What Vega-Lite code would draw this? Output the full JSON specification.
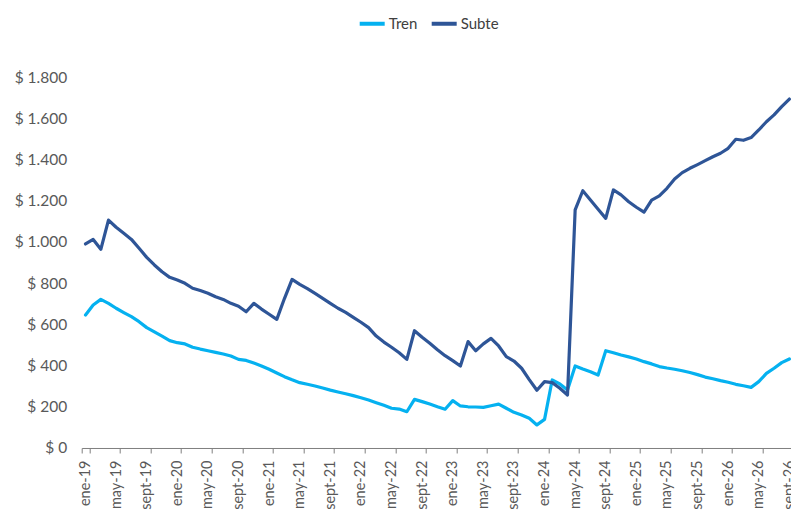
{
  "$schema": "https://vega.github.io/schema/vega-lite/v6.json",
  "autosize": "none",
  "padding": {"left": 81.7, "top": 77, "right": 0, "bottom": 63},
  "width": 711.5,
  "height": 371,
  "background": "white",
  "config": {
    "view": {"stroke": null},
    "font": "Lato",
    "axis": {"grid": false, "labelFont": "Lato", "labelColor": "#595959", "labelFontSize": 14.5}
  },
  "data": {
    "values": [
      {"mes": "ene-19", "Tren": 645, "Subte": 990},
      {"mes": "feb-19", "Tren": 694, "Subte": 1012},
      {"mes": "mar-19", "Tren": 721, "Subte": 964},
      {"mes": "abr-19", "Tren": 702, "Subte": 1106},
      {"mes": "may-19", "Tren": 678, "Subte": 1071},
      {"mes": "jun-19", "Tren": 657, "Subte": 1042},
      {"mes": "jul-19", "Tren": 637, "Subte": 1012},
      {"mes": "ago-19", "Tren": 613, "Subte": 969},
      {"mes": "sept-19", "Tren": 584, "Subte": 925},
      {"mes": "oct-19", "Tren": 563, "Subte": 888},
      {"mes": "nov-19", "Tren": 543, "Subte": 855},
      {"mes": "dic-19", "Tren": 521, "Subte": 828},
      {"mes": "ene-20", "Tren": 511, "Subte": 815},
      {"mes": "feb-20", "Tren": 505, "Subte": 799},
      {"mes": "mar-20", "Tren": 489, "Subte": 775},
      {"mes": "abr-20", "Tren": 480, "Subte": 764},
      {"mes": "may-20", "Tren": 472, "Subte": 751},
      {"mes": "jun-20", "Tren": 464, "Subte": 734},
      {"mes": "jul-20", "Tren": 456, "Subte": 721},
      {"mes": "ago-20", "Tren": 446, "Subte": 702},
      {"mes": "sept-20", "Tren": 430, "Subte": 688},
      {"mes": "oct-20", "Tren": 425, "Subte": 661},
      {"mes": "nov-20", "Tren": 412, "Subte": 702},
      {"mes": "dic-20", "Tren": 398, "Subte": 674},
      {"mes": "ene-21", "Tren": 382, "Subte": 649},
      {"mes": "feb-21", "Tren": 364, "Subte": 624},
      {"mes": "mar-21", "Tren": 346, "Subte": 725},
      {"mes": "abr-21", "Tren": 331, "Subte": 818},
      {"mes": "may-21", "Tren": 317, "Subte": 794},
      {"mes": "jun-21", "Tren": 309, "Subte": 773},
      {"mes": "jul-21", "Tren": 301, "Subte": 750},
      {"mes": "ago-21", "Tren": 291, "Subte": 726},
      {"mes": "sept-21", "Tren": 281, "Subte": 702},
      {"mes": "oct-21", "Tren": 272, "Subte": 678},
      {"mes": "nov-21", "Tren": 263, "Subte": 658},
      {"mes": "dic-21", "Tren": 254, "Subte": 634},
      {"mes": "ene-22", "Tren": 244, "Subte": 610},
      {"mes": "feb-22", "Tren": 233, "Subte": 584},
      {"mes": "mar-22", "Tren": 220, "Subte": 543},
      {"mes": "abr-22", "Tren": 207, "Subte": 514},
      {"mes": "may-22", "Tren": 193, "Subte": 489},
      {"mes": "jun-22", "Tren": 189, "Subte": 462},
      {"mes": "jul-22", "Tren": 176, "Subte": 430},
      {"mes": "ago-22", "Tren": 236, "Subte": 569},
      {"mes": "sept-22", "Tren": 225, "Subte": 537},
      {"mes": "oct-22", "Tren": 213, "Subte": 508},
      {"mes": "nov-22", "Tren": 200, "Subte": 477},
      {"mes": "dic-22", "Tren": 188, "Subte": 448},
      {"mes": "ene-23", "Tren": 230, "Subte": 424},
      {"mes": "feb-23", "Tren": 204, "Subte": 398},
      {"mes": "mar-23", "Tren": 200, "Subte": 516},
      {"mes": "abr-23", "Tren": 199, "Subte": 472},
      {"mes": "may-23", "Tren": 197, "Subte": 505},
      {"mes": "jun-23", "Tren": 205, "Subte": 532},
      {"mes": "jul-23", "Tren": 213, "Subte": 495},
      {"mes": "ago-23", "Tren": 193, "Subte": 443},
      {"mes": "sept-23", "Tren": 173, "Subte": 422},
      {"mes": "oct-23", "Tren": 160, "Subte": 387},
      {"mes": "nov-23", "Tren": 144, "Subte": 332},
      {"mes": "dic-23", "Tren": 112, "Subte": 280},
      {"mes": "ene-24", "Tren": 139, "Subte": 322},
      {"mes": "feb-24", "Tren": 330, "Subte": 317},
      {"mes": "mar-24", "Tren": 311, "Subte": 290},
      {"mes": "abr-24", "Tren": 281, "Subte": 257},
      {"mes": "may-24", "Tren": 398, "Subte": 1155},
      {"mes": "jun-24", "Tren": 383, "Subte": 1248},
      {"mes": "jul-24", "Tren": 370, "Subte": 1203},
      {"mes": "ago-24", "Tren": 354, "Subte": 1158},
      {"mes": "sept-24", "Tren": 472, "Subte": 1114},
      {"mes": "oct-24", "Tren": 462, "Subte": 1252},
      {"mes": "nov-24", "Tren": 451, "Subte": 1228},
      {"mes": "dic-24", "Tren": 442, "Subte": 1195},
      {"mes": "ene-25", "Tren": 432, "Subte": 1168},
      {"mes": "feb-25", "Tren": 419, "Subte": 1144},
      {"mes": "mar-25", "Tren": 408, "Subte": 1203},
      {"mes": "abr-25", "Tren": 395, "Subte": 1223},
      {"mes": "may-25", "Tren": 388, "Subte": 1260},
      {"mes": "jun-25", "Tren": 382, "Subte": 1305},
      {"mes": "jul-25", "Tren": 375, "Subte": 1336},
      {"mes": "ago-25", "Tren": 366, "Subte": 1357},
      {"mes": "sept-25", "Tren": 356, "Subte": 1375},
      {"mes": "oct-25", "Tren": 344, "Subte": 1394},
      {"mes": "nov-25", "Tren": 336, "Subte": 1413},
      {"mes": "dic-25", "Tren": 327, "Subte": 1430},
      {"mes": "ene-26", "Tren": 319, "Subte": 1454},
      {"mes": "feb-26", "Tren": 309, "Subte": 1498},
      {"mes": "mar-26", "Tren": 302, "Subte": 1493},
      {"mes": "abr-26", "Tren": 294, "Subte": 1506},
      {"mes": "may-26", "Tren": 322, "Subte": 1543},
      {"mes": "jun-26", "Tren": 362, "Subte": 1583},
      {"mes": "jul-26", "Tren": 387, "Subte": 1616},
      {"mes": "ago-26", "Tren": 414, "Subte": 1656},
      {"mes": "sept-26", "Tren": 432, "Subte": 1693}
    ]
  },
  "transform": [{"fold": ["Tren", "Subte"], "as": ["serie", "valor"]}],
  "mark": {"type": "line", "strokeWidth": 3.2, "strokeCap": "round", "strokeJoin": "round"},
  "encoding": {
    "x": {
      "field": "mes",
      "type": "ordinal",
      "sort": null,
      "scale": {"type": "band", "paddingInner": 0, "paddingOuter": 0},
      "axis": {
        "title": null,
        "values": ["ene-19", "may-19", "sept-19", "ene-20", "may-20", "sept-20", "ene-21", "may-21", "sept-21", "ene-22", "may-22", "sept-22", "ene-23", "may-23", "sept-23", "ene-24", "may-24", "sept-24", "ene-25", "may-25", "sept-25", "ene-26", "may-26", "sept-26"],
        "tickBand": "extent",
        "labelAngle": -90,
        "labelPadding": 7,
        "tickSize": 5,
        "tickColor": "#7F7F7F",
        "domainColor": "#7F7F7F",
        "labelOverlap": false,
        "labelBound": false,
        "labelFlush": false
      }
    },
    "y": {
      "field": "valor",
      "type": "quantitative",
      "scale": {"domain": [0, 1800], "nice": false},
      "axis": {
        "title": null,
        "values": [0, 200, 400, 600, 800, 1000, 1200, 1400, 1600, 1800],
        "labelExpr": "'$ ' + replace(format(datum.value, ','), ',', '.')",
        "labelFontSize": 15.5,
        "domain": false,
        "ticks": false,
        "tickSize": 0,
        "labelPadding": 15
      }
    },
    "color": {
      "field": "serie",
      "type": "nominal",
      "scale": {"domain": ["Tren", "Subte"], "range": ["#05B1F0", "#2E5597"]},
      "legend": {
        "title": null,
        "orient": "none",
        "direction": "horizontal",
        "legendX": 276,
        "legendY": -68,
        "symbolType": "stroke",
        "symbolSize": 625,
        "symbolStrokeWidth": 4,
        "labelFontSize": 15,
        "labelColor": "#404040",
        "labelOffset": 2,
        "columnPadding": 6
      }
    }
  }
}
